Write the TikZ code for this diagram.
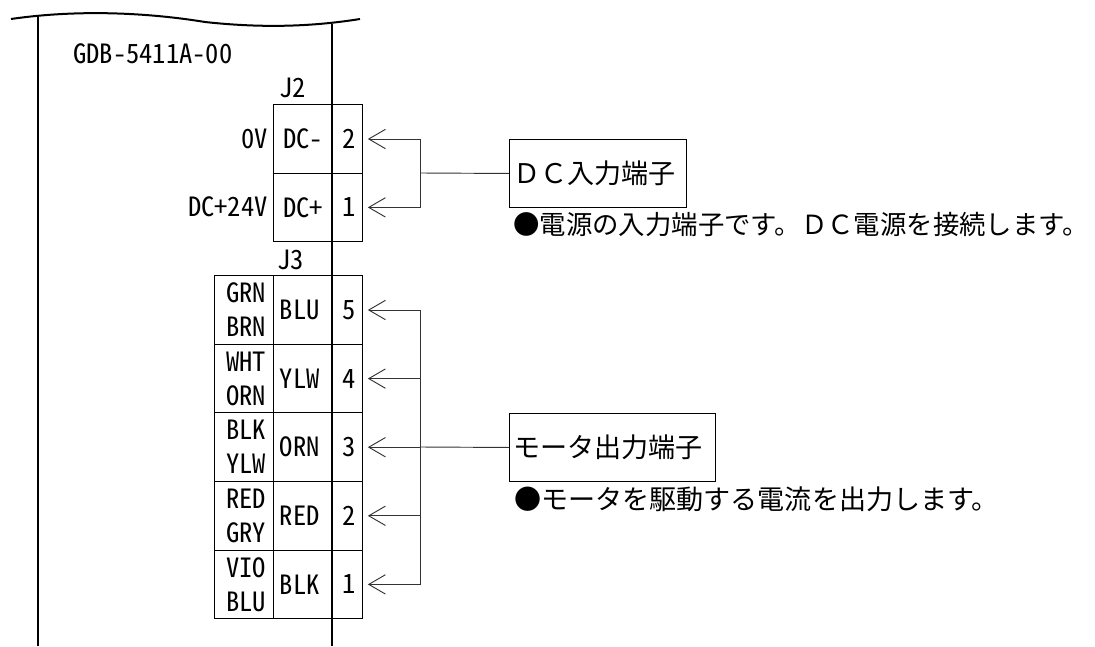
\documentclass[tikz,border=0pt]{standalone}
\usepackage{fontspec}
\usetikzlibrary{arrows.meta}
\newfontfamily\labelfont[RawFeature=+hwid]{Noto Sans CJK JP}
\newfontfamily\cjkfont{Noto Sans CJK JP}
\tikzset{
  cell/.style={draw, line width=0.8pt, inner sep=0pt, minimum height=51.4pt, font=\labelfont\fontsize{19.9}{25.5}\selectfont, align=center},
  tag/.style={inner sep=0pt, font=\labelfont\fontsize{19.9}{25.5}\selectfont},
  note/.style={inner sep=0pt, anchor=west, font=\cjkfont\fontsize{20.3}{24}\selectfont},
  titlebox/.style={draw, line width=0.7pt, inner xsep=3pt, inner ysep=0pt, minimum height=51pt, anchor=north west, align=left, font=\cjkfont\fontsize{20.3}{24}\selectfont},
  lead/.style={line width=0.7pt, black!80},
  pinarrow/.style={lead, -{Straight Barb[length=12.5pt,width=14.5pt]}}
}
\begin{document}
\begin{tikzpicture}[x=0.75pt,y=-0.75pt]
  \useasboundingbox (0,0) rectangle (1095,646);

  % Define the column edges
  \def\ColA{214.3}
  \def\ColB{273.7}
  \def\ColC{332.3}
  \def\ColD{362.3}
  \def\RowH{68.6}
  \def\TrunkX{420.7}

  % Draw the board outline
  \draw[line width=1.5pt] (11,19) .. controls (80,9) and (150,13) .. (205,22) .. controls (260,28) and (310,27) .. (360,19);
  \draw[line width=1.2pt] (38,15) -- (38,646);
  \draw[line width=1.4pt] (332.1,24) -- (332.1,646);

  \node[tag, anchor=west] (board) at (73,54) {GDB-5411A-00};

  % Draw connector J2
  \node[tag] (j2) at (292.7,88) {J2};
  \node[cell, minimum width=44pt] (dcm) at ({(\ColB+\ColC)/2},139) {DC-};
  \node[cell, minimum width=44pt] (dcp) at ({(\ColB+\ColC)/2},207.4) {DC+};
  \node[cell, minimum width=22.5pt] (p22) at ({(\ColC+\ColD)/2},139) {\kern 2pt 2};
  \node[cell, minimum width=22.5pt] (p21) at ({(\ColC+\ColD)/2},207.4) {\kern 2pt 1};
  \node[tag, anchor=east] (zero) at (268,139) {0V};
  \node[tag, anchor=east] (vcc) at (268,207) {DC+24V};

  % Draw connector J3
  \node[tag] (j3) at (290.7,260) {J3};
  \foreach \Pin/\WireA/\WireB/\Motor [count=\Row from 0] in {5/GRN/BRN/BLU,4/WHT/ORN/YLW,3/BLK/YLW/ORN,2/RED/GRY/RED,1/VIO/BLU/BLK} {
    \node[cell, minimum width=44.5pt] (w\Pin) at ({(\ColA+\ColB)/2},{310+\Row*\RowH}) {\kern 3pt\WireA\\\kern 3pt\WireB};
    \node[cell, minimum width=44pt] (m\Pin) at ({(\ColB+\ColC)/2},{310+\Row*\RowH}) {\Motor\kern 5pt};
    \node[cell, minimum width=22.5pt] (p3\Pin) at ({(\ColC+\ColD)/2},{310+\Row*\RowH}) {\kern 2pt\Pin};
  }

  % Draw the title boxes
  \node[titlebox, text width=126.7pt] (dcbox) at (509,139) {ＤＣ入力端子};
  \node[titlebox, text width=148.7pt] (motorbox) at (509,413) {モータ出力端子};

  % A little smaller than the other note, to stay on the page
  \node[note, font=\cjkfont\fontsize{19.8}{24}\selectfont] (dcnote) at (513,225) {●電源の入力端子です。ＤＣ電源を接続します。};
  \node[note] (motornote) at (514,499) {●モータを駆動する電流を出力します。};

  % Draw the leads
  \coordinate (dchub) at (\TrunkX,173);
  \draw[lead] (dcbox.west) -- (dchub);
  \draw[pinarrow] (dchub) |- ([xshift=3.75pt]p22.east);
  \draw[pinarrow] (dchub) |- ([xshift=3.75pt]p21.east);

  \coordinate (motorhub) at (\TrunkX,447);
  \draw[lead] (motorbox.west) -- (motorhub);
  \foreach \Pin in {5,4,3,2,1} {
    \draw[pinarrow] (motorhub) |- ([xshift=3.75pt]p3\Pin.east);
  }
\end{tikzpicture}
\end{document}
